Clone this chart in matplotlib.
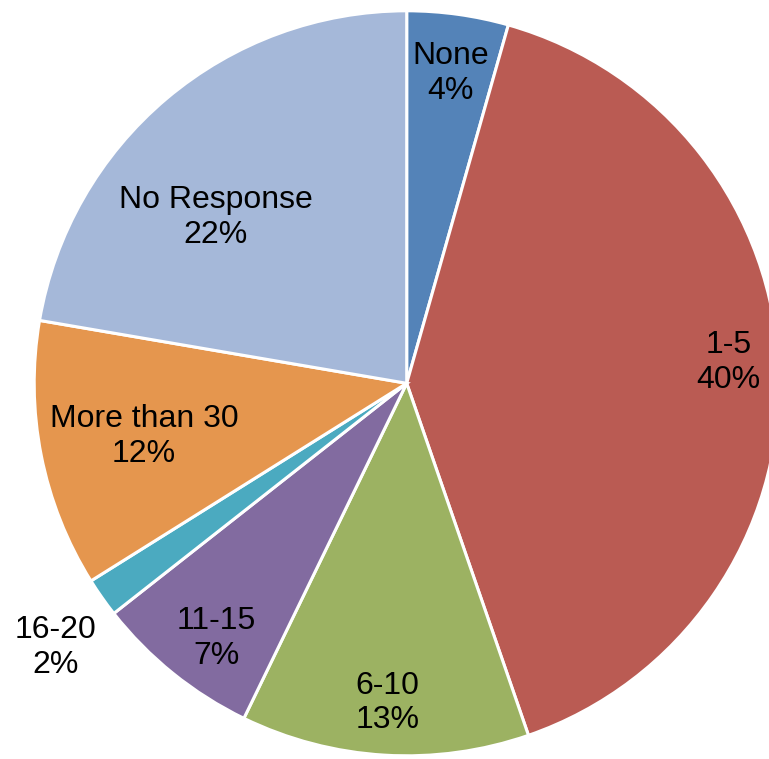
import matplotlib
matplotlib.use("Agg")
import matplotlib.pyplot as plt
import numpy as np

categories = ["None", "1-5", "6-10", "11-15", "16-20", "More than 30", "No Response"]
values = [4.4, 40.3, 12.5, 7.2, 1.7, 11.6, 22.3]
pct_labels = ["4%", "40%", "13%", "7%", "2%", "12%", "22%"]
colors = ["#5483B8", "#BA5B53", "#9CB262", "#826BA0", "#4BAAC0", "#E5964E", "#A5B8D9"]

# label placement (radius fraction, angle shift in degrees)
label_r = [0.84, 0.865, 0.86, 0.855, 1.18, 0.72, 0.68]
label_shift = [-0.2, 2.1, 0.0, 2.2, 1.8, 0.3, 8.9]

W, H = 769, 759
cx, cy_top, R = 406.7, 383.3, 372.5
fig = plt.figure(figsize=(W / 100, H / 100), dpi=100)
ax = fig.add_axes([0, 0, 1, 1])

wedges, _ = ax.pie(values, colors=colors, startangle=90, counterclock=False,
                   radius=1.0, wedgeprops=dict(edgecolor="white", linewidth=2.2))

ax.set_xlim(-cx / R, (W - cx) / R)
ax.set_ylim(-(H - cy_top) / R, cy_top / R)
ax.set_aspect("equal")
ax.axis("off")

total = sum(values)
cum = 0
for i, (cat, v) in enumerate(zip(categories, values)):
    mid = 90 - (cum + v / 2) / total * 360 + label_shift[i]
    cum += v
    a = np.deg2rad(mid)
    x, y = label_r[i] * np.cos(a), label_r[i] * np.sin(a)
    ax.text(x, y, f"{cat}\n{pct_labels[i]}", ha="center", va="center",
            fontsize=23, family=["Liberation Sans", "DejaVu Sans"],
            linespacing=1.2, color="black")

fig.savefig("out.png", dpi=100)
